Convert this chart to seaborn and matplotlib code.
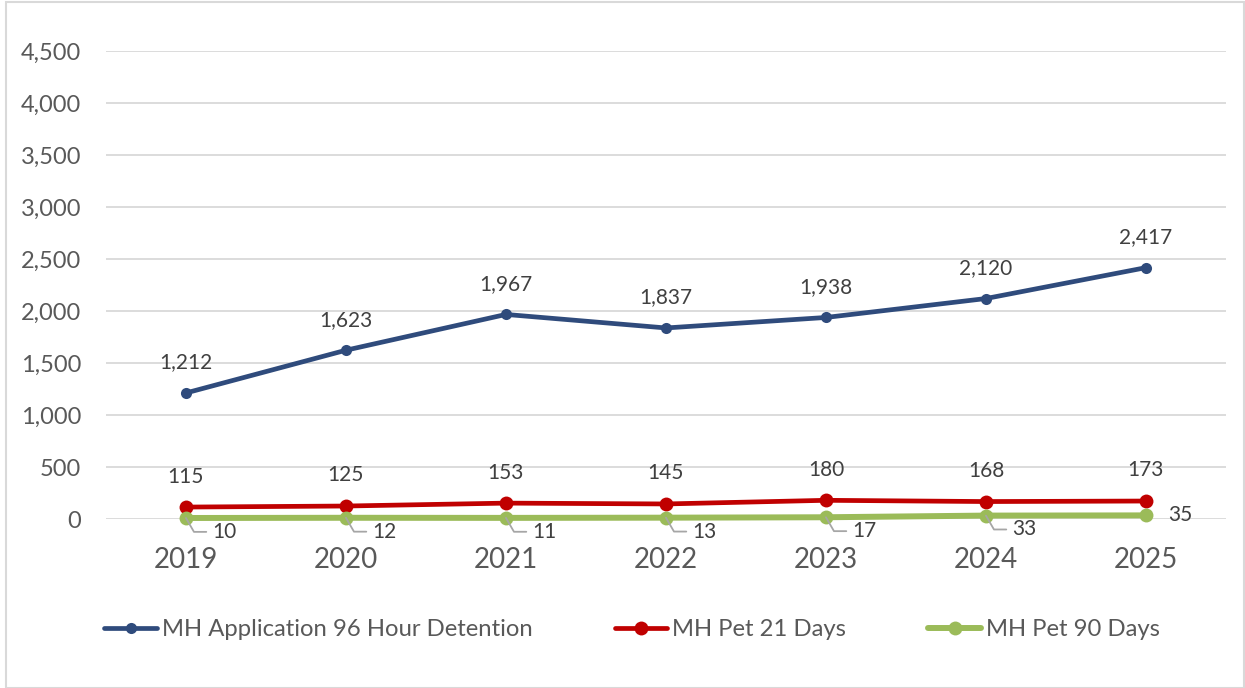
import matplotlib
matplotlib.use("Agg")
import matplotlib.pyplot as plt
from matplotlib.patches import Rectangle
from matplotlib.ticker import FuncFormatter, MultipleLocator
import seaborn as sns
import pandas as pd

years = ["2019", "2020", "2021", "2022", "2023", "2024", "2025"]
series_names = ["MH Application 96 Hour Detention", "MH Pet 21 Days", "MH Pet 90 Days"]
detention_96h = [1212, 1623, 1967, 1837, 1938, 2120, 2417]
pet_21_days = [115, 125, 153, 145, 180, 168, 173]
pet_90_days = [10, 12, 11, 13, 17, 33, 35]
colors = ["#2F4B7C", "#C00000", "#9BBB59"]

values = [detention_96h, pet_21_days, pet_90_days]
df = pd.DataFrame(
    [(i, y, name, v) for name, vals in zip(series_names, values)
     for i, (y, v) in enumerate(zip(years, vals))],
    columns=["pos", "year", "series", "value"],
)

sns.set_theme(style="white")
plt.rcParams["font.family"] = ["Lato", "DejaVu Sans"]
text_gray = "#595959"
label_color = "#404040"

fig = plt.figure(figsize=(12.45, 6.88), dpi=100)
ax = fig.add_axes([0.0851, 0.2456, 0.8996, 0.6803])

sns.lineplot(
    data=df, x="pos", y="value", hue="series", hue_order=series_names,
    palette=colors, marker="o", markeredgewidth=0,
    linewidth=3.4, ax=ax, legend=True,
)

# per-series line weights and marker sizes
line_widths = [3.4, 3.4, 4.3]
marker_sizes = [8, 10, 10]
for line, lw, ms in zip(ax.lines[:3], line_widths, marker_sizes):
    line.set_linewidth(lw)
    line.set_markersize(ms)
    line.set_clip_on(False)

ax.set_xlim(-0.5, len(years) - 0.5)
ax.set_ylim(0, 4500)
ax.yaxis.set_major_locator(MultipleLocator(500))
ax.yaxis.set_major_formatter(FuncFormatter(lambda v, p: f"{int(v):,}"))
ax.set_xticks(range(len(years)))
ax.set_xticklabels(years)
ax.tick_params(axis="y", labelsize=17, colors=text_gray, length=0, pad=18)
ax.tick_params(axis="x", labelsize=20, colors=text_gray, length=0, pad=20)
ax.set_xlabel("")
ax.set_ylabel("")
ax.grid(axis="y", color="#D9D9D9", linewidth=1.3)
ax.set_axisbelow(True)
for s in ax.spines.values():
    s.set_visible(False)

# value labels
for vals in (detention_96h, pet_21_days):
    for i, v in enumerate(vals):
        ax.annotate(f"{v:,}", (i, v), xytext=(0, 22), textcoords="offset points",
                    ha="center", va="center", fontsize=15, color=label_color)
for i, v in enumerate(pet_90_days):
    if i == len(pet_90_days) - 1:
        ax.annotate(f"{v:,}", (i, v), xytext=(16, 0), textcoords="offset points",
                    ha="left", va="center", fontsize=15, color=label_color)
    else:
        ax.annotate(f"{v:,}", (i, v), xytext=(19, -10), textcoords="offset points",
                    ha="left", va="center", fontsize=15, color=label_color,
                    arrowprops=dict(arrowstyle="-", color="#A6A6A6", lw=1.3,
                                    shrinkA=2, shrinkB=0,
                                    connectionstyle="angle,angleA=0,angleB=-60,rad=0",
                                    relpos=(0, 0.5)))

ax.get_legend().remove()
handles, labels = ax.get_legend_handles_labels()
leg = fig.legend(handles, labels, loc="center", bbox_to_anchor=(0.5076, 0.085), ncol=3,
                 frameon=False, fontsize=17.2, labelcolor=text_gray, handlelength=2.2,
                 handletextpad=0.2, columnspacing=3.45)
for h, lw, ms in zip(leg.legend_handles, line_widths, marker_sizes):
    h.set_linewidth(lw)
    h.set_markersize(ms)

fig.patches.append(Rectangle((0.005, 0.0), 0.994, 0.997, transform=fig.transFigure,
                             fill=False, edgecolor="#D9D9D9", linewidth=1.5))

fig.savefig("out.png", dpi=100)
